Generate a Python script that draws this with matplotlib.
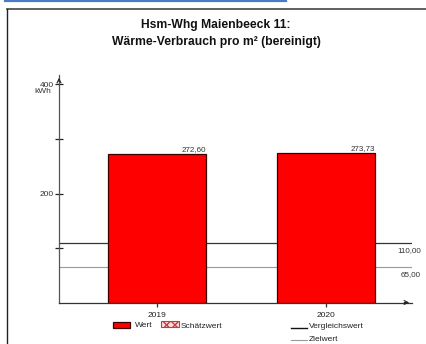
import matplotlib
matplotlib.use("Agg")
import matplotlib.pyplot as plt
from matplotlib.patches import Rectangle
from matplotlib.lines import Line2D

plt.rcParams['font.family'] = ['Liberation Sans', 'DejaVu Sans']

# Data
years = ["2019", "2020"]
values = [272.60, 273.73]
value_labels = ["272,60", "273,73"]
vergleichswert = 110.00
zielwert = 65.00
ref_labels = ["110,00", "65,00"]
yticks = [100, 200, 300, 400]
ytick_labels = ["", "200", "", "400"]

W, H = 426, 344
fig = plt.figure(figsize=(W / 100, H / 100), dpi=100)

SMALL = 6.0
VAL = 5.8

# Outer frame and blue header rule (figure pixel coordinates)
def px(x, y):
    return x / W, 1 - y / H

fig.add_artist(Line2D([5 / W, 286 / W], [1 - 1 / H, 1 - 1 / H], color="#4a7cc6", lw=1.6))
fig.add_artist(Line2D([6.5 / W, 1.0], [1 - 8.5 / H, 1 - 8.5 / H], color="#444444", lw=1.2))
fig.add_artist(Line2D([6.5 / W, 6.5 / W], [0, 1 - 8.5 / H], color="#222222", lw=1.0))

fig.text(px(216, 25)[0], px(216, 25)[1], "Hsm-Whg Maienbeeck 11:", ha="center", va="center",
         fontsize=8.7, fontweight="bold", color="#111111")
fig.text(px(216, 42)[0], px(216, 42)[1], "Wärme-Verbrauch pro m² (bereinigt)", ha="center", va="center",
         fontsize=8.7, fontweight="bold", color="#111111")

# Axes placed so the value scale runs from 0 at y=302.5 px
ax_left, ax_right, ax_top, ax_bottom = 59, 412, 75, 302.5
ax = fig.add_axes([ax_left / W, 1 - ax_bottom / H, (ax_right - ax_left) / W, (ax_bottom - ax_top) / H])
ax.set_xlim(-0.577, 1.51)
ax.set_ylim(0, (ax_bottom - ax_top) / 0.545)
ax.patch.set_alpha(0)

x = list(range(len(years)))

# Reference lines behind bars
ax.axhline(vergleichswert, color="#333333", lw=0.9, zorder=1)
ax.axhline(zielwert, color="#999999", lw=0.8, zorder=1)

ax.bar(x, values, width=0.58, color="#ff0000", edgecolor="#3a0000", lw=0.9, zorder=2)
for xi, v, lab in zip(x, values, value_labels):
    ax.text(xi + 0.29, v + 2, lab, ha="right", va="bottom", fontsize=VAL, color="#333333")

for val, lab in zip([vergleichswert, zielwert], ref_labels):
    ax.annotate(lab, xy=(1.0, val), xycoords=("axes fraction", "data"),
                xytext=(6.5, -3), textcoords="offset points", ha="right", va="top",
                fontsize=VAL, color="#333333", annotation_clip=False)

for s in ["top", "right"]:
    ax.spines[s].set_visible(False)
ax.spines["left"].set_color("#555555")
ax.spines["bottom"].set_color("#333333")
ax.spines["left"].set_linewidth(0.9)
ax.spines["bottom"].set_linewidth(0.9)

# arrowheads
ax.annotate("", xy=(0, 1.0), xytext=(0, 0.96), xycoords="axes fraction",
            arrowprops=dict(arrowstyle="->", color="#222222", lw=0.8, mutation_scale=7))
ax.annotate("", xy=(1.0, 0), xytext=(0.97, 0), xycoords="axes fraction",
            arrowprops=dict(arrowstyle="->", color="#222222", lw=0.8, mutation_scale=7))

ax.set_yticks(yticks)
ax.set_yticklabels(ytick_labels)
ax.tick_params(axis="y", direction="inout", length=6, width=0.9, color="#222222",
               labelsize=SMALL, labelcolor="#333333", pad=1)
ax.text(-0.022, 400 - 7, "kWh", transform=ax.get_yaxis_transform(), ha="right", va="top",
        fontsize=SMALL, color="#333333")

ax.set_xticks(x)
ax.set_xticklabels(years)
ax.tick_params(axis="x", direction="out", length=3, width=0.9, color="#333333",
               labelsize=SMALL, labelcolor="#222222", pad=3.5)

# Legend drawn in figure pixel coordinates
def frect(x0, y0, x1, y1, **kw):
    fig.add_artist(Rectangle(px(x0, y1), (x1 - x0) / W, (y1 - y0) / H, transform=fig.transFigure, **kw))

frect(113, 322, 130, 327.5, facecolor="#ff0000", edgecolor="#3a0000", lw=0.9)
fig.text(px(135, 325.5)[0], px(135, 325.5)[1], "Wert", fontsize=SMALL, va="center", color="#222222")
frect(161, 321, 179, 327, facecolor="#ffdede", edgecolor="#c04040", lw=0.8, hatch="xxxx")
fig.text(px(181, 326.5)[0], px(181, 326.5)[1], "Schätzwert", fontsize=SMALL, va="center", color="#222222")

fig.add_artist(Line2D([291 / W, 307 / W], [px(0, 327.5)[1]] * 2, color="#111111", lw=1.0))
fig.text(px(309, 327)[0], px(309, 327)[1], "Vergleichswert", fontsize=SMALL, va="center", color="#222222")
fig.add_artist(Line2D([291 / W, 307 / W], [px(0, 340)[1]] * 2, color="#999999", lw=0.8))
fig.text(px(309, 339.5)[0], px(309, 339.5)[1], "Zielwert", fontsize=SMALL, va="center", color="#222222")

fig.savefig("out.png", dpi=100)
